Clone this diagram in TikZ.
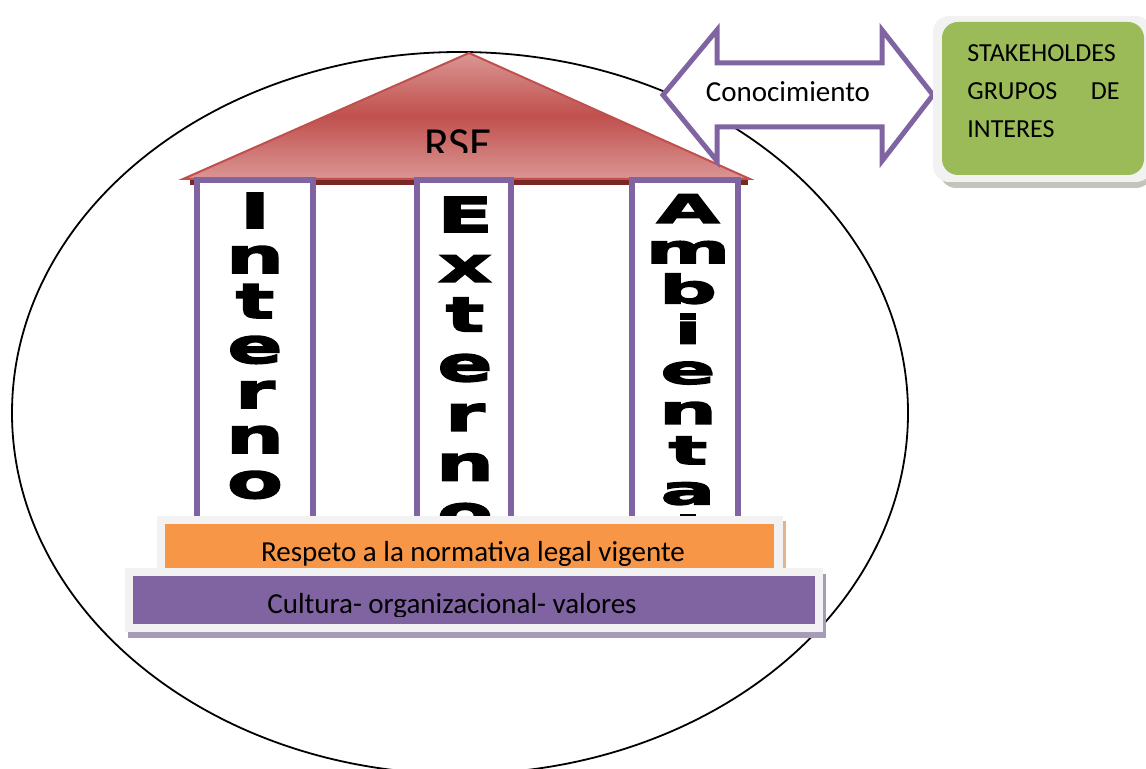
\documentclass[tikz,border=0pt]{standalone}
\usepackage{fontspec}
\usepackage{tikz}
\usepackage{xcolor}
\setmainfont{Carlito}
\newfontfamily\pillarfamily{DejaVu Sans}[FakeStretch=1.7,FakeBold=3.5]

\definecolor{pillarviolet}{HTML}{8064A2}
\definecolor{roofred}{HTML}{C0504D}
\definecolor{roofpink}{HTML}{DA9694}
\definecolor{roofdark}{HTML}{7A2826}
\definecolor{baseorange}{HTML}{F79646}
\definecolor{stakegreen}{HTML}{9BBB59}
\definecolor{framegray}{HTML}{F2F2F2}
\definecolor{orangeshade}{HTML}{E3B48A}
\definecolor{violetshade}{HTML}{A89BB8}
\definecolor{greenshade}{HTML}{C2C6BA}

\tikzset{
  pillar/.style={draw=pillarviolet,line width=3pt,fill=white},
  pillarletter/.style={font=\pillarfamily\bfseries\fontsize{24}{24}\selectfont,anchor=base,
    inner sep=0pt,text height=16pt,text depth=0pt},
  bodytext/.style={font=\fontsize{14.5}{17}\selectfont,inner sep=0pt},
  staketext/.style={font=\fontsize{13}{15}\selectfont,inner sep=0pt}
}

\begin{document}
\begin{tikzpicture}[x=0.5pt,y=-0.5pt]
        \useasboundingbox (0,0) rectangle (1146,769);

        % big ellipse
        \draw[line width=0.9pt] (460,413) ellipse [x radius=448, y radius=361];

        % roof
        \fill[roofdark] (190,180) rectangle (748,185);
        \draw[roofred,line width=1pt,top color=roofpink,bottom color=roofpink,middle color=roofred]
          (183,179) -- (469,53) -- (750,179) -- cycle;
        \begin{scope}
          \clip (400,100) rectangle (540,153);
          \node[bodytext,font=\fontsize{23}{27}\selectfont,anchor=base] (rse) at (458,160) {RSE};
        \end{scope}

        % pillars
        \draw[pillar] (197,180) rectangle (313,530);
        \draw[pillar] (417,180) rectangle (511,530);
        \draw[pillar] (632,180) rectangle (738,530);
        \begin{scope}
          \clip (180,183) rectangle (760,516);
          \foreach \c [count=\i from 0] in {I,n,t,e,r,n,o}
            \node[pillarletter] (int\i) at (255,228+45*\i) {\c};
          \foreach \c [count=\i from 0] in {E,x,t,e,r,n,o}
            \node[pillarletter] (ext\i) at (465,232+49.7*\i) {\c};
          \foreach \c [count=\i from 0] in {A,m,b,i,e,n,t,a,l}
            \node[pillarletter,yscale=0.82] (amb\i) at (688,223+40.2*\i) {\c};
        \end{scope}

        % foundations
        \fill[orangeshade] (160,521) rectangle (786,570);
        \fill[framegray] (157,516) rectangle (783,572);
        \fill[baseorange] (165,524) rectangle (774,568);
        \begin{scope}
          \clip (165,524) rectangle (774,567);
          \node[bodytext,anchor=base] (law) at (473,562) {Respeto a la normativa legal vigente};
        \end{scope}
        \fill[violetshade] (128,574) rectangle (826,638);
        \fill[framegray] (125,568) rectangle (823,632);
        \fill[pillarviolet] (133,576) rectangle (815,624);
        \begin{scope}
          \clip (133,576) rectangle (815,617);
          \node[bodytext,anchor=base] (culture) at (452,614) {Cultura- organizacional- valores};
        \end{scope}

        % knowledge arrow
        \draw[pillarviolet,line width=2.5pt,fill=white,line join=miter]
          (663,95) -- (717,30) -- (717,63) -- (882,63) -- (882,30) -- (933,95)
          -- (882,161) -- (882,127) -- (717,127) -- (717,161) -- cycle;
        \node[bodytext] (know) at (788,92) {Conocimiento};

        % stakeholders box
        \fill[greenshade,rounded corners=8pt] (940,30) rectangle (1152,188);
        \fill[framegray,rounded corners=8pt] (933,16) rectangle (1152,182);
        \fill[stakegreen,rounded corners=8pt] (942,22) rectangle (1144,175);
        \node[staketext,anchor=base west] (stk1) at (967,62) {STAKEHOLDES};
        \node[staketext,anchor=base west] (stk2) at (967,100) {GRUPOS};
        \node[staketext,anchor=base east] (stk3) at (1120,100) {DE};
        \node[staketext,anchor=base west] (stk4) at (967,138) {INTERES};
    \end{tikzpicture}
\end{document}
